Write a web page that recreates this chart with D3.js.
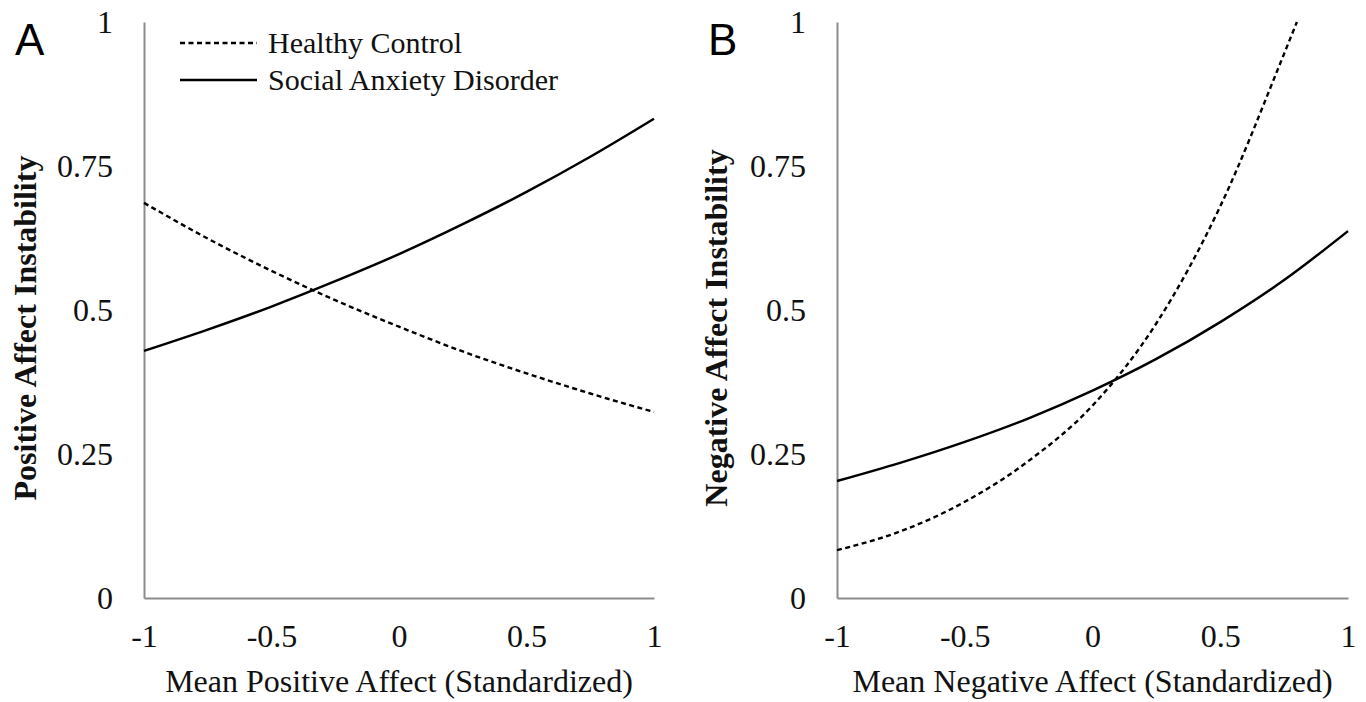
<!DOCTYPE html>
<html>
<head>
<meta charset="utf-8">
<script src="https://cdn.jsdelivr.net/npm/d3@7"></script>
<style>
  html, body { margin: 0; padding: 0; background: #fff; }
  svg { display: block; }
</style>
</head>
<body>
<svg id="chart" width="1366" height="702"></svg>
<script>
// ---- Data ----
const xTicks = [-1, -0.5, 0, 0.5, 1];
const xTickLabels = ["-1", "-0.5", "0", "0.5", "1"];
const yTicks = [0, 0.25, 0.5, 0.75, 1];
const yTickLabels = ["0", "0.25", "0.5", "0.75", "1"];

const seriesNames = ["Healthy Control", "Social Anxiety Disorder"];

// Panel A: Mean Positive Affect vs Positive Affect Instability
const xA = [-1, -0.75, -0.5, -0.25, 0, 0.25, 0.5, 0.75, 1];
const hcA = [0.686, 0.624, 0.568, 0.517, 0.471, 0.428, 0.390, 0.355, 0.323];
const sadA = [0.429, 0.466, 0.506, 0.550, 0.597, 0.649, 0.705, 0.766, 0.832];

// Panel B: Mean Negative Affect vs Negative Affect Instability
const xB_hc = [-1, -0.75, -0.5, -0.25, 0, 0.25, 0.5, 0.75, 0.8];
const hcB = [0.083, 0.116, 0.167, 0.238, 0.334, 0.477, 0.680, 0.945, 1.0];
const xB_sad = [-1, -0.75, -0.5, -0.25, 0, 0.25, 0.5, 0.75, 1];
const sadB = [0.203, 0.235, 0.271, 0.312, 0.360, 0.415, 0.479, 0.552, 0.637];

const panels = [
  { letter: "A", xTitle: "Mean Positive Affect (Standardized)", yTitle: "Positive Affect Instability",
    left: 144, right: 654, hc: [xA, hcA], sad: [xA, sadA], letterX: 15, yTitleX: 25 },
  { letter: "B", xTitle: "Mean Negative Affect (Standardized)", yTitle: "Negative Affect Instability",
    left: 837, right: 1348, hc: [xB_hc, hcB], sad: [xB_sad, sadB], letterX: 708, yTitleX: 716 }
];

const plotTop = 22, plotBottom = 598;
const serif = "'Liberation Serif', 'Times New Roman', serif";
const sans = "'Liberation Sans', Arial, sans-serif";
const axisColor = "#8c8c8c";

const svg = d3.select("#chart");

panels.forEach(p => {
  const x = d3.scaleLinear().domain([-1, 1]).range([p.left, p.right]);
  const y = d3.scaleLinear().domain([0, 1]).range([plotBottom, plotTop]);
  const g = svg.append("g");

  // y axis
  const yAxis = d3.axisLeft(y).tickValues(yTicks)
    .tickFormat((d, i) => yTickLabels[i]).tickSize(0).tickSizeOuter(0).tickPadding(31);
  const ya = g.append("g").attr("transform", `translate(${p.left},0)`).call(yAxis);
  ya.select(".domain").attr("stroke", axisColor).attr("stroke-width", 2);
  ya.selectAll("text").attr("font-family", serif).attr("font-size", 32).attr("fill", "#111");

  // x axis
  const xAxis = d3.axisBottom(x).tickValues(xTicks)
    .tickFormat((d, i) => xTickLabels[i]).tickSize(0).tickSizeOuter(0).tickPadding(26);
  const xa = g.append("g").attr("transform", `translate(0,${plotBottom})`).call(xAxis);
  xa.select(".domain").attr("stroke", axisColor).attr("stroke-width", 2);
  xa.selectAll("text").attr("font-family", serif).attr("font-size", 32).attr("fill", "#111");

  // titles
  g.append("text")
    .attr("x", (p.left + p.right) / 2)
    .attr("y", 692)
    .attr("text-anchor", "middle")
    .attr("font-family", serif).attr("font-size", 32).attr("fill", "#111")
    .text(p.xTitle);

  g.append("text")
    .attr("transform", `translate(${p.yTitleX + 11},${(plotTop + plotBottom) / 2 + 18}) rotate(-90)`)
    .attr("text-anchor", "middle")
    .attr("font-family", serif).attr("font-size", 32).attr("font-weight", "bold").attr("fill", "#111")
    .text(p.yTitle);

  // panel letter
  g.append("text")
    .attr("x", p.letterX).attr("y", 55)
    .attr("font-family", sans).attr("font-size", 44).attr("fill", "#000")
    .text(p.letter);

  const line = d3.line().x(d => x(d[0])).y(d => y(d[1])).curve(d3.curveMonotoneX);

  const hcPts = p.hc[0].map((v, i) => [v, p.hc[1][i]]);
  const sadPts = p.sad[0].map((v, i) => [v, p.sad[1][i]]);

  g.append("path").datum(hcPts).attr("d", line)
    .attr("fill", "none").attr("stroke", "#000").attr("stroke-width", 2.4)
    .attr("stroke-dasharray", "5,3.5");
  g.append("path").datum(sadPts).attr("d", line)
    .attr("fill", "none").attr("stroke", "#000").attr("stroke-width", 2.5);
});

// legend (panel A)
const legend = svg.append("g");
const legendItems = [
  { name: seriesNames[0], y: 43, dash: "5,3.5", w: 2.4 },
  { name: seriesNames[1], y: 80, dash: null, w: 2.5 }
];
legendItems.forEach(it => {
  legend.append("line").attr("x1", 180).attr("x2", 257).attr("y1", it.y).attr("y2", it.y)
    .attr("stroke", "#000").attr("stroke-width", it.w)
    .attr("stroke-dasharray", it.dash);
  legend.append("text").attr("x", 268).attr("y", it.y).attr("dy", "0.33em")
    .attr("font-family", serif).attr("font-size", 30).attr("fill", "#111")
    .text(it.name);
});
</script>
</body>
</html>
